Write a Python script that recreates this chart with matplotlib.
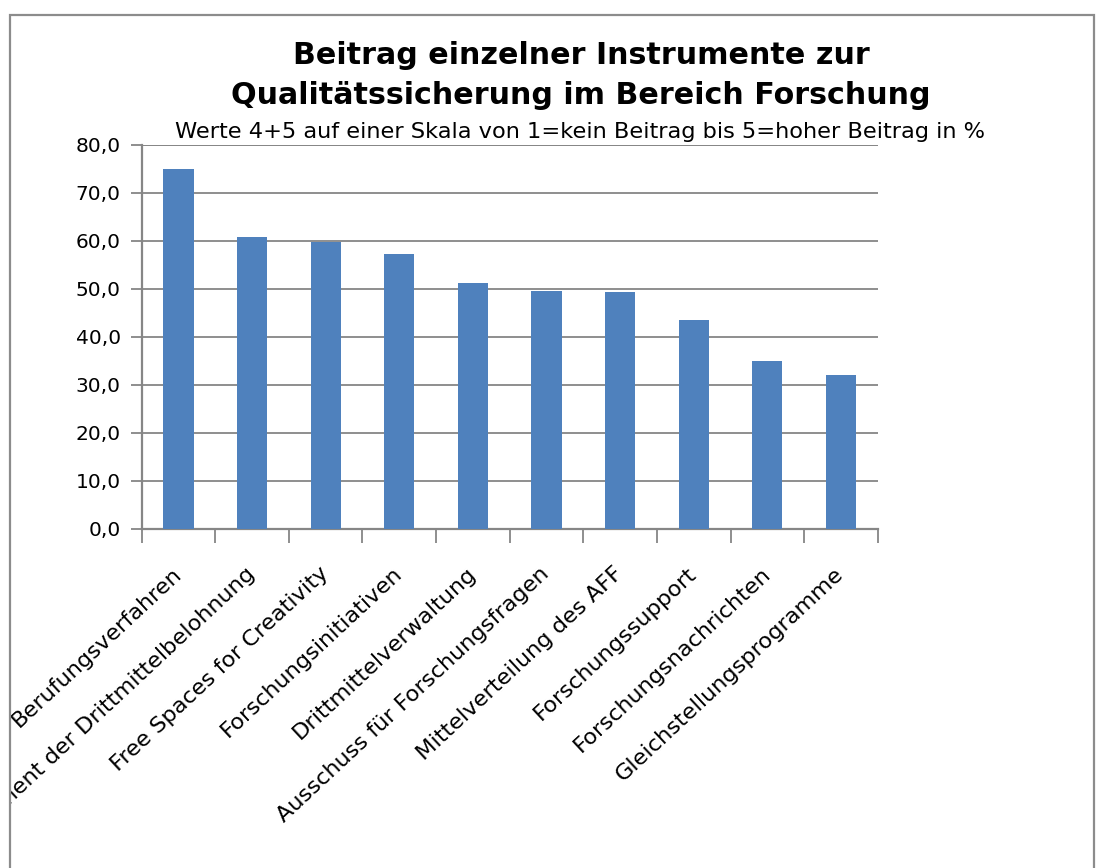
import matplotlib
matplotlib.use("Agg")
import matplotlib.pyplot as plt
from matplotlib.patches import Rectangle
from matplotlib.transforms import Bbox, TransformedBbox
from matplotlib.ticker import MultipleLocator, FuncFormatter

plt.rcParams['font.family'] = ['DejaVu Sans']

instrumente = ["Berufungsverfahren",
               "Instrument der Drittmittelbelohnung",
               "Free Spaces for Creativity",
               "Forschungsinitiativen",
               "Drittmittelverwaltung",
               "Ausschuss für Forschungsfragen",
               "Mittelverteilung des AFF",
               "Forschungssupport",
               "Forschungsnachrichten",
               "Gleichstellungsprogramme"]
werte = [75.0, 60.7, 59.7, 57.2, 51.2, 49.5, 49.3, 43.5, 35.0, 32.0]

W, H = 1104, 868
fig = plt.figure(figsize=(W / 100, H / 100), dpi=100)
fig.patch.set_facecolor("white")

# chart frame
fig.patches.append(Rectangle((10 / W, -0.1), 1084 / W, 1.1 - 15 / H,
                             transform=fig.transFigure, fill=False,
                             edgecolor="#8c8c8c", linewidth=1.6))

ax = fig.add_axes([141.7 / W, 1 - 529 / H, (877.7 - 141.7) / W, (529 - 144.7) / H])
x = list(range(len(werte)))
ax.bar(x, werte, width=0.41, color="#4F81BD", zorder=3)

ax.set_xlim(-0.5, len(werte) - 0.5)
ax.set_ylim(0, 80)
ax.yaxis.set_major_locator(MultipleLocator(10))
ax.yaxis.set_major_formatter(FuncFormatter(lambda v, p: f"{v:.1f}".replace(".", ",")))
ax.grid(axis="y", color="#868686", linewidth=1.3, zorder=0)
ax.axhline(80, color="#868686", linewidth=1.3, zorder=0)

for s in ["top", "right"]:
    ax.spines[s].set_visible(False)
for s in ["left", "bottom"]:
    ax.spines[s].set_color("#868686")
    ax.spines[s].set_linewidth(1.6)

# category boundary ticks on x
ax.set_xticks([i - 0.5 for i in range(len(werte) + 1)], minor=False)
ax.set_xticklabels([])
ax.set_xticks(x, minor=True)
ax.set_xticklabels(instrumente, minor=True, rotation=43, ha="right", va="center",
                   rotation_mode="anchor", fontsize=16.2)
ax.tick_params(axis="x", which="major", length=10, width=1.3, color="#868686", direction="out")
ax.tick_params(axis="x", which="minor", length=0, pad=30)
ax.tick_params(axis="y", length=8, width=1.3, color="#868686", labelsize=14.5, pad=7)

clip = TransformedBbox(Bbox([[10 / W, 0], [1, 1]]), fig.transFigure)
for lab in ax.get_xticklabels(minor=True):
    lab.set_clip_box(clip)
    lab.set_clip_on(True)

fig.text(581 / W, 1 - 55 / H, "Beitrag einzelner Instrumente zur", ha="center", va="center",
         fontsize=21.7, fontweight="bold")
fig.text(581 / W, 1 - 96 / H, "Qualitätssicherung im Bereich Forschung", ha="center", va="center",
         fontsize=21.7, fontweight="bold")
fig.text(580 / W, 1 - 132 / H, "Werte 4+5 auf einer Skala von 1=kein Beitrag bis 5=hoher Beitrag in %",
         ha="center", va="center", fontsize=16.2)

fig.savefig("out.png", dpi=100)
